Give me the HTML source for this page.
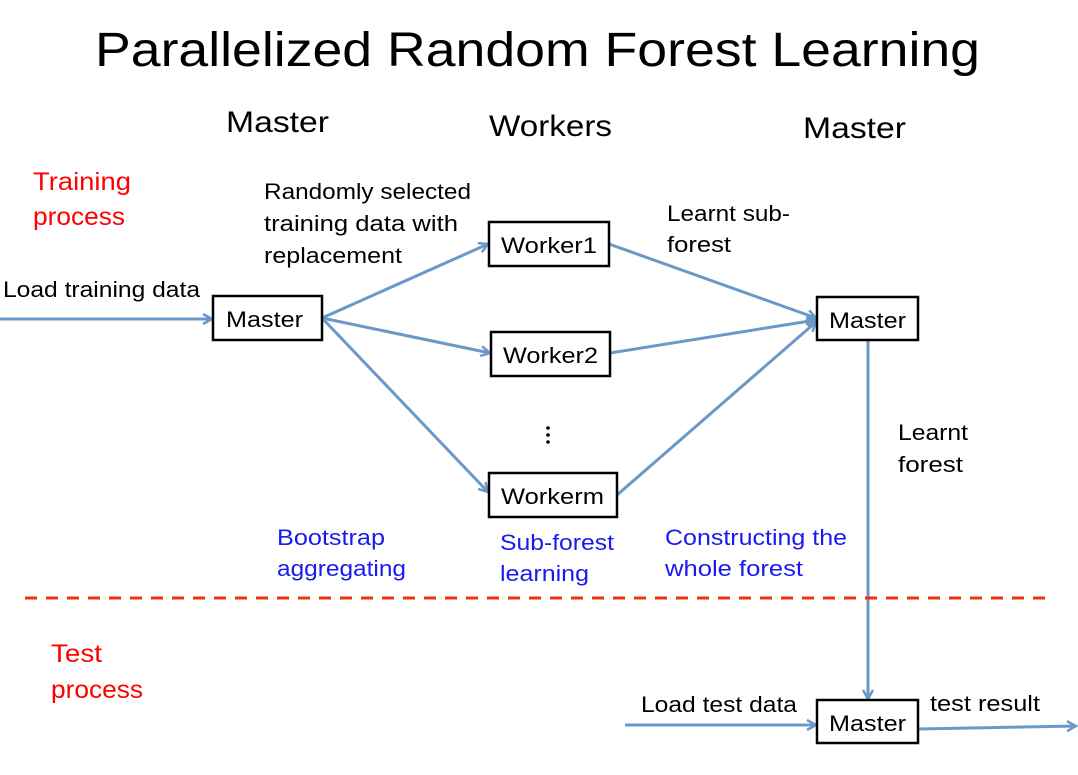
<!DOCTYPE html>
<html><head><meta charset="utf-8"><style>
body{margin:0;background:#fff;}
svg{display:block;font-family:"Liberation Sans","DejaVu Sans",sans-serif;}
</style></head><body>
<svg width="1078" height="775" viewBox="0 0 1078 775">
<defs><marker id="a" markerWidth="12" markerHeight="12" refX="10" refY="6" orient="auto" markerUnits="userSpaceOnUse"><path d="M1,1 L10,6 L1,11" fill="none" stroke="#6a98c8" stroke-width="2.5"/></marker></defs>
<g lengthAdjust="spacingAndGlyphs">
<text x="95" y="66" font-size="48" textLength="885" lengthAdjust="spacingAndGlyphs">Parallelized Random Forest Learning</text>
<text x="226" y="132" font-size="30" textLength="103" lengthAdjust="spacingAndGlyphs">Master</text>
<text x="489" y="136" font-size="30" textLength="123" lengthAdjust="spacingAndGlyphs">Workers</text>
<text x="803" y="138" font-size="30" textLength="103" lengthAdjust="spacingAndGlyphs">Master</text>
<g fill="#f00" font-size="25"><text x="33" y="190" textLength="98" lengthAdjust="spacingAndGlyphs">Training</text><text x="33" y="225" textLength="92" lengthAdjust="spacingAndGlyphs">process</text><text x="51" y="662" textLength="51" lengthAdjust="spacingAndGlyphs">Test</text><text x="51" y="698" textLength="92" lengthAdjust="spacingAndGlyphs">process</text></g>
<g font-size="22"><text x="264" y="199" textLength="207" lengthAdjust="spacingAndGlyphs">Randomly selected</text><text x="264" y="231" textLength="194" lengthAdjust="spacingAndGlyphs">training data with</text><text x="264" y="263" textLength="138" lengthAdjust="spacingAndGlyphs">replacement</text>
<text x="3" y="297" textLength="197" lengthAdjust="spacingAndGlyphs">Load training data</text>
<text x="667" y="221" textLength="123" lengthAdjust="spacingAndGlyphs">Learnt sub-</text><text x="667" y="252" textLength="64" lengthAdjust="spacingAndGlyphs">forest</text>
<text x="898" y="440" textLength="70" lengthAdjust="spacingAndGlyphs">Learnt</text><text x="898" y="472" textLength="65" lengthAdjust="spacingAndGlyphs">forest</text>
<text x="641" y="712" textLength="156" lengthAdjust="spacingAndGlyphs">Load test data</text><text x="930" y="711" textLength="110" lengthAdjust="spacingAndGlyphs">test result</text></g>
<g fill="#1a1af0" font-size="22"><text x="277" y="545" textLength="108" lengthAdjust="spacingAndGlyphs">Bootstrap</text><text x="277" y="576" textLength="129" lengthAdjust="spacingAndGlyphs">aggregating</text>
<text x="500" y="550" textLength="114" lengthAdjust="spacingAndGlyphs">Sub-forest</text><text x="500" y="581" textLength="89" lengthAdjust="spacingAndGlyphs">learning</text>
<text x="665" y="545" textLength="182" lengthAdjust="spacingAndGlyphs">Constructing the</text><text x="665" y="576" textLength="138" lengthAdjust="spacingAndGlyphs">whole forest</text></g>
</g>
<g stroke="#6a98c8" stroke-width="3" fill="none" marker-end="url(#a)">
<line x1="0" y1="319" x2="212" y2="319"/>
<line x1="322" y1="318" x2="488" y2="244"/>
<line x1="322" y1="318" x2="490" y2="353"/>
<line x1="322" y1="318" x2="488" y2="492"/>
<line x1="609" y1="244" x2="816" y2="318"/>
<line x1="610" y1="353" x2="816" y2="320"/>
<line x1="617" y1="495" x2="816" y2="322"/>
<line x1="868" y1="340" x2="868" y2="699"/>
<line x1="625" y1="725" x2="816" y2="725"/>
<line x1="918" y1="729" x2="1076" y2="726"/>
</g>
<line x1="25" y1="598" x2="1045" y2="598" stroke="#f03010" stroke-width="3" stroke-dasharray="12,9"/>
<g stroke="#000" stroke-width="2.5" fill="#fff">
<rect x="213" y="296" width="109" height="44"/><rect x="489" y="222" width="120" height="44"/>
<rect x="491" y="332" width="119" height="44"/><rect x="489" y="473" width="128" height="44"/>
<rect x="817" y="297" width="101" height="43"/><rect x="817" y="700" width="101" height="43"/></g>
<g font-size="22"><text x="226" y="327" textLength="77" lengthAdjust="spacingAndGlyphs">Master</text><text x="501" y="253" textLength="96" lengthAdjust="spacingAndGlyphs">Worker1</text>
<text x="503" y="363" textLength="95" lengthAdjust="spacingAndGlyphs">Worker2</text><text x="501" y="504" textLength="103" lengthAdjust="spacingAndGlyphs">Workerm</text>
<text x="829" y="328" textLength="77" lengthAdjust="spacingAndGlyphs">Master</text><text x="829" y="731" textLength="77" lengthAdjust="spacingAndGlyphs">Master</text></g>
<g fill="#000"><circle cx="548" cy="428" r="1.8"/><circle cx="548" cy="435" r="1.8"/><circle cx="548" cy="442" r="1.8"/></g>
</svg>
</body></html>
